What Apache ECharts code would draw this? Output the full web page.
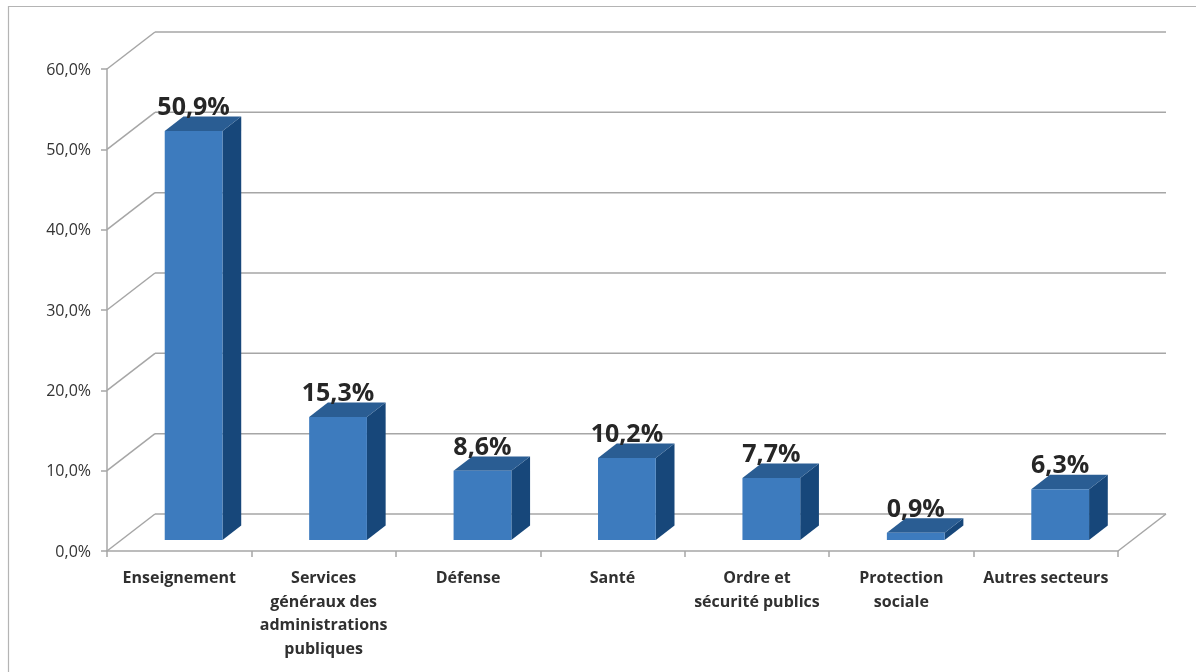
<!DOCTYPE html>
<html>
<head>
<meta charset="utf-8">
<style>
  html, body { margin: 0; padding: 0; background: #ffffff; }
  #chart { width: 1196px; height: 672px; }
</style>
<script src="https://cdn.jsdelivr.net/npm/echarts@6/dist/echarts.min.js"></script>
</head>
<body>
<div id="chart"></div>
<script>
// Répartition par secteur (en %)
const categories = [
  'Enseignement',
  'Services\ngénéraux des\nadministrations\npubliques',
  'Défense',
  'Santé',
  'Ordre et\nsécurité publics',
  'Protection\nsociale',
  'Autres secteurs'
];
const shares = [50.9, 15.3, 8.6, 10.2, 7.7, 0.9, 6.3];
const yTicks = [0, 10, 20, 30, 40, 50, 60];

// Perspective: offset of the back wall relative to the front plane
const DEPTH_X = 48;
const DEPTH_Y = -37;
const BAR_FRONT = 0.30;   // depth fraction of the bar front face
const BAR_BACK = 0.69;    // depth fraction of the bar back face
const BAR_RATIO = 0.40;   // bar width / category band

const GRID_COLOR = '#A6A6A6';
const FRONT = '#3D7BBE';
const TOP = '#2A5D93';
const SIDE = '#17477A';

const pct = v => v.toFixed(1).replace('.', ',') + '%';

const chart = echarts.init(document.getElementById('chart'));

chart.setOption({
  animation: false,
  backgroundColor: '#ffffff',
  graphic: [{
    type: 'rect',
    z: 0,
    shape: { x: 8.5, y: 6.5, width: 1400, height: 900 },
    style: { fill: 'none', stroke: '#B4B4B4', lineWidth: 1.2 }
  }],
  grid: { left: 107, top: 69, width: 1011, height: 482 },
  xAxis: {
    type: 'category',
    data: categories,
    axisLine: { lineStyle: { color: GRID_COLOR, width: 1.5 } },
    axisTick: { show: true, length: 6, lineStyle: { color: GRID_COLOR, width: 1.5 } },
    axisLabel: {
      interval: 0,
      margin: 16,
      color: '#303030',
      fontFamily: 'Open Sans',
      fontWeight: 'bold',
      fontSize: 16,
      lineHeight: 23.5,
      align: 'center'
    }
  },
  yAxis: {
    type: 'value',
    min: 0,
    max: 60,
    interval: 10,
    splitLine: { show: false },
    axisLine: { show: true, lineStyle: { color: GRID_COLOR, width: 1.5 } },
    axisTick: { show: true, length: 6, lineStyle: { color: GRID_COLOR, width: 1.5 } },
    axisLabel: {
      margin: 16,
      color: '#333333',
      fontFamily: 'Open Sans',
      fontSize: 16,
      verticalAlign: 'top',
      padding: [-7, 0, 0, 0],
      formatter: v => pct(v)
    }
  },
  series: [
    {
      // Back wall, left wall and floor lines
      type: 'custom',
      clip: false,
      z: 1,
      silent: true,
      data: yTicks.map(v => [0, v]),
      encode: { x: 0, y: 1 },
      renderItem: (params, api) => {
        const cs = params.coordSys;
        const left = cs.x, right = cs.x + cs.width;
        const v = api.value(1);
        const y = api.coord([0, v])[1];
        const children = [
          {
            type: 'line',
            shape: { x1: left, y1: y, x2: left + DEPTH_X, y2: y + DEPTH_Y },
            style: { stroke: GRID_COLOR, lineWidth: 1.5 }
          },
          {
            type: 'line',
            shape: { x1: left + DEPTH_X, y1: y + DEPTH_Y, x2: right + DEPTH_X, y2: y + DEPTH_Y },
            style: { stroke: GRID_COLOR, lineWidth: 1.5 }
          }
        ];
        if (v === 0) {
          children.push({
            type: 'line',
            shape: { x1: right, y1: y, x2: right + DEPTH_X, y2: y + DEPTH_Y },
            style: { stroke: GRID_COLOR, lineWidth: 1.5 }
          });
        }
        return { type: 'group', children };
      }
    },
    {
      // 3D bars with value labels
      type: 'custom',
      clip: false,
      z: 2,
      data: shares.map((v, i) => [i, v]),
      encode: { x: 0, y: 1 },
      renderItem: (params, api) => {
        const i = api.value(0);
        const v = api.value(1);
        const base = api.coord([i, 0]);
        const top = api.coord([i, v]);
        const bw = api.size([1, 0])[0] * BAR_RATIO;
        const cx = base[0] + DEPTH_X * BAR_FRONT;
        const xl = cx - bw / 2, xr = cx + bw / 2;
        const yb = base[1] + DEPTH_Y * BAR_FRONT;
        const yt = top[1] + DEPTH_Y * BAR_FRONT;
        const ddx = DEPTH_X * (BAR_BACK - BAR_FRONT);
        const ddy = DEPTH_Y * (BAR_BACK - BAR_FRONT);
        return {
          type: 'group',
          children: [
            {
              type: 'polygon',
              shape: { points: [[xr, yt], [xr + ddx, yt + ddy], [xr + ddx, yb + ddy], [xr, yb]] },
              style: { fill: SIDE }
            },
            {
              type: 'polygon',
              shape: { points: [[xl, yt], [xr, yt], [xr + ddx, yt + ddy], [xl + ddx, yt + ddy]] },
              style: { fill: TOP }
            },
            {
              type: 'rect',
              shape: { x: xl, y: yt, width: bw, height: yb - yt },
              style: { fill: FRONT }
            },
            {
              type: 'text',
              x: cx,
              y: yt + ddy + 4,
              style: {
                text: pct(v),
                fill: '#262626',
                font: 'bold 25px "Open Sans"',
                align: 'center',
                verticalAlign: 'bottom'
              }
            }
          ]
        };
      }
    }
  ]
});
</script>
</body>
</html>
